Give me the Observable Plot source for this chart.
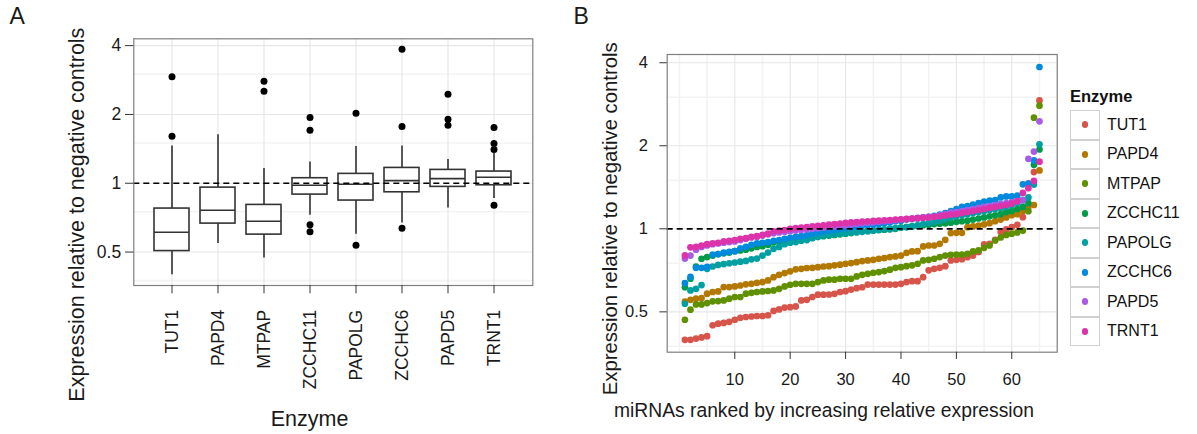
<!DOCTYPE html>
<html>
<head>
<meta charset="utf-8">
<script src="https://cdn.jsdelivr.net/npm/d3@7"></script>
<script src="https://cdn.jsdelivr.net/npm/@observablehq/plot@0.6"></script>
<style>
  html, body { margin: 0; padding: 0; background: #fff; }
  body { font-family: "Liberation Sans", Arial, Helvetica, sans-serif; }
  #wrap { position: relative; width: 1197px; height: 434px; overflow: hidden; }
  #wrap svg.panel { position: absolute; top: 0; }
  #legend { position: absolute; left: 1070px; top: 86px; color: #111; }
  #legend .ttl { font-weight: bold; font-size: 16.5px; height: 24px; line-height: 20px; }
  #legend .row { display: flex; align-items: center; height: 29.5px; }
  #legend .key { width: 28px; height: 27.5px; border: 1px solid #d0d0d0; display: flex; align-items: center; justify-content: center; box-sizing: content-box; }
  #legend .dot { width: 6.6px; height: 6.6px; border-radius: 50%; }
  #legend .lab { font-size: 16px; margin-left: 7px; }
</style>
</head>
<body>
<div id="wrap"></div>
<script>
// ---------- data ----------
const enzymes = ["TUT1", "PAPD4", "MTPAP", "ZCCHC11", "PAPOLG", "ZCCHC6", "PAPD5", "TRNT1"];
const enzymeColors = ["#D6544A", "#B27800", "#5E9000", "#009B48", "#00A0A2", "#008ADE", "#A95BE4", "#DD33AA"];

// Panel A: box statistics
const boxQ1       = [0.505, 0.666, 0.596, 0.892, 0.840, 0.913, 0.964, 0.980];
const boxMedian   = [0.610, 0.762, 0.682, 0.980, 0.990, 1.027, 1.048, 1.062];
const boxQ3       = [0.775, 0.957, 0.804, 1.052, 1.099, 1.167, 1.144, 1.125];
const whiskerLow  = [0.398, 0.545, 0.471, 0.724, 0.598, 0.670, 0.780, 0.857];
const whiskerHigh = [1.457, 1.628, 1.159, 1.240, 1.447, 1.457, 1.270, 1.349];
const outlierValues = [
  [1.606, 2.92],
  [],
  [2.528, 2.796],
  [0.614, 0.659, 1.706, 1.939],
  [0.535, 2.025],
  [0.635, 1.77, 3.86],
  [1.794, 1.906, 2.452],
  [0.801, 1.404, 1.492, 1.752]
];

// Panel B: relative expression of 65 miRNAs, ranked, per enzyme
const rankedTUT1 = [0.396,0.396,0.400,0.404,0.408, 0.447,0.453,0.456,0.460,0.468, 0.476,0.479,0.481,0.483,0.483,
  0.486,0.504,0.510,0.518,0.520, 0.523,0.550,0.553,0.566,0.577, 0.577,0.578,0.581,0.590,0.594,
  0.602,0.609,0.614,0.628,0.628, 0.628,0.628,0.628,0.628,0.632, 0.641,0.646,0.646,0.668,0.707,
  0.716,0.722,0.732,0.768,0.772, 0.776,0.789,0.800,0.823,0.878, 0.882,0.912,0.973,0.995,1.014,
  1.034,1.102,1.457,1.606,2.92];
const rankedPAPD4 = [0.545,0.553,0.558,0.561,0.582, 0.590,0.593,0.615,0.615,0.618, 0.623,0.629,0.632,0.637,0.641,
  0.650,0.668,0.681,0.691,0.701, 0.713,0.716,0.721,0.722,0.726, 0.730,0.732,0.737,0.741,0.747,
  0.751,0.757,0.764,0.768,0.772, 0.779,0.783,0.790,0.794,0.800, 0.818,0.828,0.830,0.863,0.870,
  0.870,0.882,0.912,0.965,0.967, 0.967,1.014,1.020,1.028,1.037, 1.048,1.066,1.08,1.10,1.12,
  1.13,1.16,1.20,1.22,1.628];
const rankedMTPAP = [0.468,0.509,0.532,0.532,0.538, 0.546,0.547,0.550,0.558,0.566, 0.566,0.582,0.586,0.590,0.593,
  0.595,0.598,0.606,0.618,0.627, 0.632,0.632,0.632,0.632,0.641, 0.650,0.654,0.654,0.659,0.659,
  0.659,0.672,0.681,0.687,0.693, 0.697,0.703,0.711,0.722,0.726, 0.732,0.737,0.747,0.768,0.772,
  0.779,0.790,0.800,0.805,0.807, 0.807,0.812,0.828,0.835,0.853, 0.870,0.907,0.93,0.95,0.96,
  0.97,0.985,1.159,2.528,2.796];
const rankedZCCHC11 = [0.614,0.659,0.73,0.779,0.79, 0.80,0.81,0.815,0.82,0.83, 0.835,0.84,0.85,0.86,0.865,
  0.875,0.892,0.90,0.905,0.91, 0.915,0.92,0.925,0.93,0.935, 0.94,0.945,0.95,0.955,0.96,
  0.965,0.972,0.98,0.983,0.986, 0.99,0.993,0.996,1.0,1.01, 1.015,1.02,1.025,1.03,1.035,
  1.04,1.043,1.047,1.052,1.06, 1.065,1.07,1.08,1.09,1.10, 1.11,1.12,1.13,1.15,1.16,
  1.18,1.20,1.24,1.706,1.939];
const rankedPAPOLG = [0.535,0.598,0.606,0.625,0.716, 0.73,0.74,0.745,0.75,0.755, 0.76,0.765,0.775,0.78,0.80,
  0.82,0.846,0.86,0.88,0.89, 0.895,0.905,0.91,0.925,0.935, 0.945,0.95,0.955,0.96,0.965,
  0.97,0.972,0.975,0.98,0.985, 0.99,0.995,1.0,1.005,1.01, 1.015,1.02,1.03,1.04,1.05,
  1.06,1.07,1.085,1.099,1.11, 1.12,1.13,1.14,1.15,1.16, 1.17,1.18,1.19,1.20,1.22,
  1.24,1.27,1.30,1.447,2.025];
const rankedZCCHC6 = [0.635,0.67,0.722,0.722,0.728, 0.807,0.81,0.82,0.825,0.83, 0.85,0.86,0.875,0.885,0.89,
  0.895,0.905,0.91,0.92,0.928, 0.935,0.94,0.948,0.96,0.97, 0.978,0.985,0.99,1.0,1.005,
  1.01,1.02,1.027,1.03,1.035, 1.04,1.05,1.055,1.065,1.07, 1.08,1.085,1.09,1.10,1.105,
  1.115,1.125,1.14,1.16,1.18, 1.20,1.21,1.225,1.24,1.255, 1.265,1.27,1.30,1.31,1.31,
  1.32,1.45,1.457,1.77,3.86];
const rankedPAPD5 = [0.78,0.80,0.84,0.86,0.87, 0.88,0.885,0.89,0.895,0.90, 0.91,0.92,0.93,0.935,0.945,
  0.955,0.964,0.97,0.975,0.98, 0.985,0.99,0.995,1.0,1.005, 1.01,1.015,1.02,1.025,1.03,
  1.036,1.042,1.048,1.052,1.056, 1.06,1.065,1.07,1.075,1.08, 1.085,1.09,1.095,1.10,1.105,
  1.11,1.12,1.13,1.144,1.15, 1.16,1.17,1.18,1.19,1.20, 1.21,1.22,1.23,1.24,1.25,
  1.26,1.27,1.794,1.906,2.452];
const rankedTRNT1 = [0.801,0.857,0.86,0.87,0.88, 0.885,0.89,0.90,0.905,0.91, 0.92,0.925,0.935,0.94,0.95,
  0.96,0.98,0.985,0.99,1.0, 1.005,1.01,1.015,1.02,1.025, 1.03,1.035,1.04,1.045,1.05,
  1.055,1.058,1.062,1.065,1.068, 1.07,1.073,1.076,1.08,1.083, 1.086,1.09,1.093,1.096,1.10,
  1.105,1.11,1.118,1.125,1.13, 1.14,1.15,1.16,1.17,1.18, 1.19,1.20,1.21,1.22,1.235,
  1.26,1.349,1.404,1.492,1.752];
const rankedSeries = [rankedTUT1, rankedPAPD4, rankedMTPAP, rankedZCCHC11, rankedPAPOLG, rankedZCCHC6, rankedPAPD5, rankedTRNT1];

// axis ticks / grid
const yMajor = [0.5, 1, 2, 4];
const yMinor = [0.375, 0.75, 1.5, 3];
const rankMajor = [10, 20, 30, 40, 50, 60];
const rankMinor = [0, 5, 15, 25, 35, 45, 55, 65];
const yDomain = [0.357, 4.285];
const rankDomain = [-2.2, 68.2];

const yTitle = "Expression relative to negative controls";
const xTitleA = "Enzyme";
const xTitleB = "miRNAs ranked by increasing relative expression";
const legendTitle = "Enzyme";

// ---------- tables built from arrays ----------
const boxes = enzymes.map((e, i) => ({enzyme: e, q1: boxQ1[i], median: boxMedian[i], q3: boxQ3[i], lo: whiskerLow[i], hi: whiskerHigh[i]}));
const outliers = enzymes.flatMap((e, i) => outlierValues[i].map(v => ({enzyme: e, value: v})));
const points = enzymes.flatMap((e, i) => rankedSeries[i].map((v, j) => ({enzyme: e, rank: j + 1, value: v})));

const FONT = '"Liberation Sans", Arial, Helvetica, sans-serif';
const INK = "#1a1a1a";
const BOXINK = "#333333";
const fmt = d => String(d);

// ---------- Panel A ----------
const plotA = Plot.plot({
  width: 560, height: 434,
  marginLeft: 133.3, marginRight: 27.7, marginTop: 38.3, marginBottom: 149,
  style: {fontFamily: FONT, background: "transparent", overflow: "visible", color: INK},
  x: {type: "band", domain: enzymes, paddingInner: 0.245, paddingOuter: 0.385, axis: null, label: null},
  y: {type: "log", base: 2, domain: yDomain, axis: null, label: null},
  marks: [
    Plot.ruleY(yMinor, {stroke: "#F3F3F3", strokeWidth: 1.6}),
    Plot.ruleY(yMajor, {stroke: "#E6E6E6", strokeWidth: 1.1}),
    Plot.ruleX(enzymes, {x: d => d, stroke: "#E6E6E6", strokeWidth: 1.1}),
    Plot.ruleX(boxes, {x: "enzyme", y1: "q3", y2: "hi", stroke: BOXINK, strokeWidth: 1.6}),
    Plot.ruleX(boxes, {x: "enzyme", y1: "lo", y2: "q1", stroke: BOXINK, strokeWidth: 1.6}),
    Plot.barY(boxes, {x: "enzyme", y1: "q1", y2: "q3", fill: "white", stroke: BOXINK, strokeWidth: 1.6}),
    Plot.tickY(boxes, {x: "enzyme", y: "median", stroke: BOXINK, strokeWidth: 1.6}),
    Plot.dot(outliers, {x: "enzyme", y: "value", r: 3.5, fill: "black", stroke: "none"}),
    Plot.ruleY([1], {stroke: "black", strokeWidth: 1.7, strokeDasharray: "6,4"}),
    Plot.frame({stroke: "#7F7F7F", strokeWidth: 1.2}),
    Plot.axisY(yMajor, {tickSize: 8.3, tickPadding: 4.3, fontSize: 17.5, stroke: BOXINK, tickFormat: fmt, label: null}),
    Plot.axisX({tickRotate: -90, tickSize: 8.3, tickPadding: 16, fontSize: 17.5, stroke: BOXINK, label: null}),
    Plot.text([yTitle], {frameAnchor: "left", rotate: -90, dx: -50.3, dy: 52.5, fontSize: 21.5, lineAnchor: "bottom", textAnchor: "middle", fill: INK}),
    Plot.text([xTitleA], {frameAnchor: "bottom", dx: -23.8, dy: 140.7, fontSize: 21.5, lineAnchor: "bottom", textAnchor: "middle", fill: INK}),
    Plot.text(["A"], {frameAnchor: "top-left", dx: -124.3, dy: -15, fontSize: 23, lineAnchor: "bottom", textAnchor: "start", fill: INK})
  ]
});
plotA.classList.add("panel");
plotA.style.left = "0px";

// ---------- Panel B ----------
const plotB = Plot.plot({
  width: 637, height: 434,
  marginLeft: 106.7, marginRight: 140.3, marginTop: 54, marginBottom: 82.3,
  style: {fontFamily: FONT, background: "transparent", overflow: "visible", color: INK},
  x: {type: "linear", domain: rankDomain, axis: null, label: null},
  y: {type: "log", base: 2, domain: yDomain, axis: null, label: null},
  color: {domain: enzymes, range: enzymeColors},
  marks: [
    Plot.ruleY(yMinor, {stroke: "#F3F3F3", strokeWidth: 1.6}),
    Plot.ruleX(rankMinor, {stroke: "#F3F3F3", strokeWidth: 1.6}),
    Plot.ruleY(yMajor, {stroke: "#E6E6E6", strokeWidth: 1.1}),
    Plot.ruleX(rankMajor, {stroke: "#E6E6E6", strokeWidth: 1.1}),
    Plot.dot(points, {x: "rank", y: "value", fill: "enzyme", r: 3.35, stroke: "none"}),
    Plot.ruleY([1], {stroke: "black", strokeWidth: 1.7, strokeDasharray: "6,4"}),
    Plot.frame({stroke: "#7F7F7F", strokeWidth: 1.2}),
    Plot.axisY(yMajor, {tickSize: 7.3, tickPadding: 12, fontSize: 16.5, stroke: BOXINK, tickFormat: fmt, label: null}),
    Plot.axisX(rankMajor, {tickSize: 7.3, tickPadding: 14, fontSize: 16.5, stroke: BOXINK, tickFormat: fmt, label: null}),
    Plot.text([yTitle], {frameAnchor: "left", rotate: -90, dx: -50.7, dy: 15.5, fontSize: 20.3, lineAnchor: "bottom", textAnchor: "middle", fill: INK}),
    Plot.text([xTitleB], {frameAnchor: "bottom", dx: -38.2, dy: 65, fontSize: 19.3, lineAnchor: "bottom", textAnchor: "middle", fill: INK}),
    Plot.text(["B"], {frameAnchor: "top-left", dx: -93.7, dy: -30.7, fontSize: 23, lineAnchor: "bottom", textAnchor: "start", fill: INK})
  ]
});
plotB.classList.add("panel");
plotB.style.left = "560px";

const wrap = document.getElementById("wrap");
wrap.appendChild(plotA);
wrap.appendChild(plotB);

// ---------- Legend ----------
const legend = document.createElement("div");
legend.id = "legend";
const ttl = document.createElement("div");
ttl.className = "ttl";
ttl.textContent = legendTitle;
legend.appendChild(ttl);
enzymes.forEach((e, i) => {
  const row = document.createElement("div"); row.className = "row";
  const key = document.createElement("div"); key.className = "key";
  const dot = document.createElement("div"); dot.className = "dot"; dot.style.background = enzymeColors[i];
  key.appendChild(dot);
  const lab = document.createElement("div"); lab.className = "lab"; lab.textContent = e;
  row.appendChild(key); row.appendChild(lab);
  legend.appendChild(row);
});
wrap.appendChild(legend);
</script>
</body>
</html>
